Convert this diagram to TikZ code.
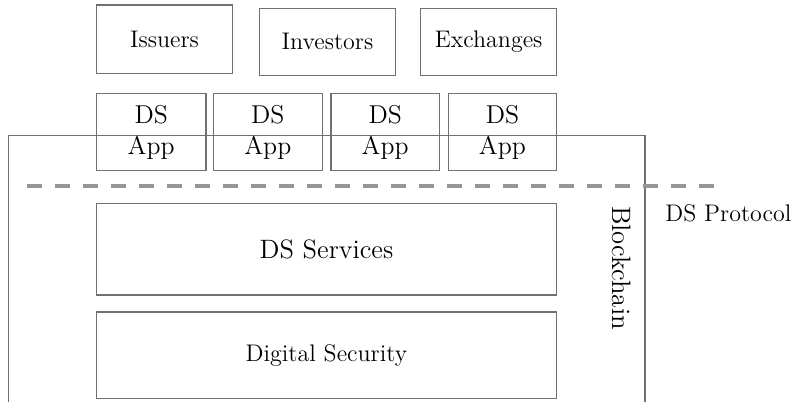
\documentclass[tikz,border=0pt]{standalone}
\definecolor{boxline}{RGB}{112,112,112}
\definecolor{dashline}{RGB}{150,150,150}
\begin{document}
\begin{tikzpicture}[x=0.5pt,y=-0.5pt,
  box/.style={draw=boxline,line width=0.65pt,inner sep=0pt,outer sep=0pt,align=center},
  normaltext/.style={font=\fontsize{12}{14.4}\selectfont},
  bigtext/.style={font=\fontsize{13.3}{15.5}\selectfont},
  apptext/.style={font=\fontsize{12.9}{15.5}\selectfont},
  protoline/.style={draw=dashline,line width=2pt,dash pattern=on 7.5pt off 6.5pt}]
\useasboundingbox (0,0) rectangle (794,402);
\clip (0,0) rectangle (794,402);
% Blockchain container (open at the bottom, clipped by the page)
\node[box,minimum width=318.35pt,minimum height=160pt,anchor=north west] (chain) at (8.3,135.3) {};
% top row
\node[box,normaltext,minimum width=68.2pt,minimum height=34.2pt] (issuers) at (164.5,39.2) {Issuers};
\node[box,normaltext,minimum width=68.2pt,minimum height=33.5pt] (investors) at (327.5,41.8) {Investors};
\node[box,normaltext,minimum width=68pt,minimum height=33.5pt] (exchanges) at (488.7,41.8) {Exchanges};
% DS App row
\node[box,apptext,minimum width=54.8pt,minimum height=38.3pt] (app1) at (151.2,132) {DS\\App};
\node[box,apptext,minimum width=54.5pt,minimum height=38.3pt] (app2) at (267.8,132) {DS\\App};
\node[box,apptext,minimum width=54.2pt,minimum height=38.3pt] (app3) at (385.2,132) {DS\\App};
\node[box,apptext,minimum width=54.2pt,minimum height=38.3pt] (app4) at (502.5,132) {DS\\App};
% protocol line
\coordinate (pl) at (26.7,186);
\coordinate (pr) at (715,186);
\draw[protoline] (pl) -- (pr);
\node[normaltext,inner sep=0pt] (proto) at (728.3,213) {DS Protocol};
% inner layers
\node[box,bigtext,minimum width=230.2pt,minimum height=45.8pt] (services) at (326.5,249.2) {DS Services};
\node[box,normaltext,minimum width=230.2pt,minimum height=43.2pt] (security) at (326.5,355.2) {Digital Security};
\node[bigtext,inner sep=0pt,rotate=-90] (chainlabel) at (621.5,268) {Blockchain};
\end{tikzpicture}
\end{document}
